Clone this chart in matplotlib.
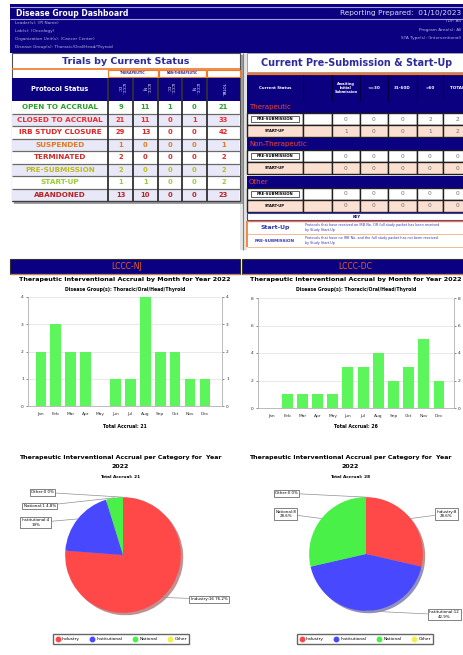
import matplotlib
matplotlib.use('Agg')
import matplotlib.pyplot as plt
from matplotlib.patches import Rectangle
from matplotlib.lines import Line2D
import numpy as np

W, H = 464, 655
NAVY = '#0b0080'
ORANGE = '#f07828'
TITLE_BLUE = '#2c2c9c'
BAR_GREEN = '#5cf55c'

# trials by current status
status_labels = ['OPEN TO ACCRUAL', 'CLOSED TO ACCRUAL', 'IRB STUDY CLOSURE', 'SUSPENDED',
                 'TERMINATED', 'PRE-SUBMISSION', 'START-UP', 'ABANDONED']
status_colors = ['#2a9e2a', '#f02a2a', '#e42222', '#e07a22', '#d02a2a', '#bcbc1e', '#98cc30', '#b82222']
ther_dc = [9, 21, 29, 1, 2, 2, 1, 13]
ther_nj = [11, 11, 13, 0, 0, 0, 1, 10]
nonther_dc = [1, 0, 0, 0, 0, 0, 0, 0]
nonther_nj = [0, 1, 0, 0, 0, 0, 0, 0]

# pre-submission & start-up
presub_headers = ['Awaiting\nInitial\nSubmission', '<=30', '31-60D', '>60', 'TOTAL']
presub_groups = ['Therapeutic', 'Non-Therapeutic', 'Other']
presub_rows = ['PRE-SUBMISSION', 'START-UP']
ther_presub = [0, 0, 0, 2]
ther_startup = [1, 0, 0, 1]
nonther_presub = [0, 0, 0, 0]
nonther_startup = [0, 0, 0, 0]
other_presub = [0, 0, 0, 0]
other_startup = [0, 0, 0, 0]
key_labels = ['Start-Up', 'PRE-SUBMISSION']
key_texts = ['Protocols that have received an IRB No. OR full study packet has been received\nby Study Start-Up',
             'Protocols that have no IRB No. and the full study packet has not been received\nby Study Start-Up']

# monthly accrual
months = ['Jan', 'Feb', 'Mar', 'Apr', 'May', 'Jun', 'Jul', 'Aug', 'Sep', 'Oct', 'Nov', 'Dec']
nj_accrual = [2, 3, 2, 2, 0, 1, 1, 4, 2, 2, 1, 1]
dc_accrual = [0, 1, 1, 1, 1, 3, 3, 4, 2, 3, 5, 2]

# accrual per category
categories = ['Industry', 'Institutional', 'National', 'Other']
cat_colors = ['#ff4848', '#4848ff', '#48f048', '#f0f048']
nj_category = [16, 4, 1, 0]
dc_category = [8, 12, 8, 0]

fig = plt.figure(figsize=(W / 100, H / 100), dpi=100)
bg = fig.add_axes([0, 0, 1, 1])
bg.set_xlim(0, W)
bg.set_ylim(H, 0)
bg.axis('off')


def box(x0, y0, x1, y1, fc, ec='none', lw=0.6, z=1):
    bg.add_patch(Rectangle((x0, y0), x1 - x0, y1 - y0, facecolor=fc,
                           edgecolor=ec, linewidth=lw, zorder=z))


def txt(x, y, s, size=5, color='black', ha='center', weight='normal', **kw):
    bg.text(x, y, s, fontsize=size, color=color, ha=ha, va='center',
            fontweight=weight, zorder=5, **kw)


def hline(y, x0, x1, color, lw, z=3):
    bg.plot([x0, x1], [y, y], color=color, lw=lw, zorder=z, solid_capstyle='butt')


def vline(x, y0, y1, color, lw, z=3):
    bg.plot([x, x], [y0, y1], color=color, lw=lw, zorder=z, solid_capstyle='butt')


def px_axes(x0, y0, x1, y1):
    return fig.add_axes([x0 / W, 1 - y1 / H, (x1 - x0) / W, (y1 - y0) / H])


# header band
box(10, 4, 464, 53, NAVY)
hline(7, 10, 464, '#a0a0e0', 0.8)
hline(19, 10, 464, '#a0a0e0', 0.8)
txt(16, 13, 'Disease Group Dashboard', 5.5, 'white', ha='left', weight='bold')
txt(461, 13, 'Reporting Prepared:  01/10/2023', 5.3, '#dcdcf4', ha='right')
for i, line in enumerate(['Leader(s): (PI Name)', 'Lab(s): (Oncology)',
                          'Organization Unit(s): (Cancer Center)',
                          'Disease Group(s): Thoracic/Oral/Head/Thyroid']):
    txt(15, 23.5 + i * 7.8, line, 3.1, '#b4b4e4', ha='left')
txt(461, 21.5, 'TDF: All', 3.1, '#b4b4e4', ha='right')
txt(461, 29.5, 'Program Area(s): All', 3.1, '#b4b4e4', ha='right')
txt(461, 38, 'STA Type(s): (Interventional)', 3.1, '#b4b4e4', ha='right')

# left panel: trials by current status
box(240, 53, 247, 250, '#e4e4e4')
vline(243.5, 53, 250, '#808080', 0.8)
box(14, 55, 243, 204, '#a0a0a0')
box(12, 53, 240, 201, 'white', ec='#505050', lw=0.8, z=2)
txt(126, 61, 'Trials by Current Status', 6.8, TITLE_BLUE, weight='bold')
hline(68.5, 12, 240, ORANGE, 1.2)
col_edges = [12, 108, 133, 158, 182, 207, 240]
box(108, 69.5, 158, 77, 'white', ec=ORANGE, lw=0.8, z=3)
box(159, 69.5, 206, 77, 'white', ec=ORANGE, lw=0.8, z=3)
box(207, 69.5, 240, 77, 'white', ec=ORANGE, lw=0.8, z=3)
txt(133, 73.3, 'THERAPEUTIC', 2.4, TITLE_BLUE, weight='bold')
txt(182.5, 73.3, 'NON-THERAPEUTIC', 2.2, TITLE_BLUE, weight='bold')
box(12, 77.5, 240, 101, NAVY, z=3)
txt(60, 89, 'Protocol Status', 4.8, 'white', weight='bold')
for j, lab in enumerate(['LCCC-\nDC', 'LCCC-\nNJ', 'LCCC-\nDC', 'LCCC-\nNJ', 'TOTAL']):
    xc = (col_edges[j + 1] + col_edges[j + 2]) / 2
    txt(xc, 89, lab, 2.8, 'white', rotation=-90, linespacing=1.0)
row_h = 12.5
for i, lab in enumerate(status_labels):
    y0 = 101 + i * row_h
    box(12.5, y0, 239.5, y0 + row_h, 'white' if i % 2 == 0 else '#e8e8f8', z=2.5)
    yc = y0 + row_h / 2
    txt(60, yc, lab, 5.2, status_colors[i], weight='bold')
    vals = [ther_dc[i], ther_nj[i], nonther_dc[i], nonther_nj[i]]
    vals.append(sum(vals))
    for j, v in enumerate(vals):
        xc = (col_edges[j + 1] + col_edges[j + 2]) / 2
        txt(xc, yc, str(v), 4.9, status_colors[i], weight='bold')
    if i > 0:
        hline(y0, 12, 240, '#6a6a6a', 0.9)
for x in col_edges[1:-1]:
    vline(x, 77.5, 201, '#303030', 1.3)
hline(201, 12, 240, '#404040', 1.0)

# right panel: pre-submission & start-up
box(247, 53, 470, 72, 'white', ec='#909090', lw=0.6)
txt(357, 62.5, 'Current Pre-Submission & Start-Up', 6.9, TITLE_BLUE, weight='bold')
hline(73.5, 247, 464, ORANGE, 1.6)
pcols = [247, 303, 332, 360, 388, 417, 443, 472]
box(247, 75, 470, 101, NAVY)
txt(275, 88, 'Current Status', 2.8, 'white', weight='bold')
for j, lab in enumerate(presub_headers):
    xc = (pcols[j + 2] + pcols[j + 3]) / 2
    txt(xc, 88, lab, 2.6 if '\n' in lab else 3.0, 'white', weight='bold', linespacing=1.1)
for x in pcols[1:-1]:
    vline(x, 75, 101, '#000040', 0.8)

group_rows = [(ther_presub, ther_startup), (nonther_presub, nonther_startup),
              (other_presub, other_startup)]
group_tops = [101, 138, 175.5]
for g, grp in enumerate(presub_groups):
    gy = group_tops[g]
    box(247, gy, 470, gy + 12, NAVY)
    txt(249, gy + 6.3, grp, 5.0, '#f04830', ha='left')
    for r, vals in enumerate(group_rows[g]):
        y0 = gy + 12 + r * 12.2
        fc = 'white' if r == 0 else '#fbe0d2'
        row_vals = list(vals) + [sum(vals)]
        box(247, y0, 303, y0 + 12.2, fc, ec='#202020', lw=1.0)
        box(303, y0, 332, y0 + 12.2, fc, ec='#202020', lw=1.0)
        if r == 0:
            bg.add_patch(Rectangle((251, y0 + 3), 48, 6.2, facecolor='white',
                                   edgecolor='#202020', linewidth=0.5, zorder=4))
        txt(275, y0 + 6.2, presub_rows[r], 2.7, 'black', weight='bold')
        for j, v in enumerate(row_vals):
            box(pcols[j + 2], y0, pcols[j + 3], y0 + 12.2, fc, ec='#202020', lw=1.0)
            txt((pcols[j + 2] + pcols[j + 3]) / 2, y0 + 6.2, str(v), 4.2, '#707070')

box(247, 213, 470, 220, 'white', ec='#3c3cc0', lw=0.8)
txt(357, 216.7, 'KEY', 2.6, NAVY, weight='bold')
for k, lab in enumerate(key_labels):
    y0 = 221 + k * 13
    txt(275, y0 + 6.5, lab, 4.4 if k == 0 else 3.0, '#3434b4', weight='bold')
    txt(305, y0 + 6.2, key_texts[k], 2.4, '#3434b4', ha='left', linespacing=1.3)
    hline(y0 + 13, 247, 464, '#f0b080', 0.6)
vline(247, 221, 247, ORANGE, 1.2)
hline(221, 247, 464, ORANGE, 1.0)

# site bands
for x0, x1, site in [(10, 240, 'LCCC-NJ'), (242, 470, 'LCCC-DC')]:
    box(x0, 258.5, x1, 273.5, NAVY, ec='#303030', lw=0.8)
    hline(274.3, x0, min(x1, 464), '#c08050', 0.9)
    txt((x0 + min(x1, 464)) / 2 + 2, 266.3, site, 5.5, '#f06028')


def month_chart(rect, values, ymax, ystep, xlim, cx):
    ax = px_axes(*rect)
    ax.bar(range(len(months)), values, width=0.72, color=BAR_GREEN, zorder=2)
    ax.set_xlim(*xlim)
    ax.set_ylim(0, ymax)
    ax.set_yticks(range(0, ymax + 1, ystep))
    ax.set_xticks(range(len(months)))
    ax.set_xticklabels(months)
    ax.tick_params(labelsize=3.2, colors='#303030', length=1.5, width=0.4, pad=1.5,
                   right=True, labelright=True)
    ax.tick_params(axis='x', length=0, pad=4)
    ax.grid(axis='y', color='#e0e0e0', lw=0.5, zorder=0)
    for side in ['left', 'right', 'bottom']:
        ax.spines[side].set_color('#b0b0b0')
        ax.spines[side].set_linewidth(0.6)
    ax.spines['top'].set_visible(False)
    txt(cx, 279, 'Therapeutic Interventional Accrual by Month for Year 2022', 4.6, 'black', weight='bold')
    txt(cx, 289, 'Disease Group(s): Thoracic/Oral/Head/Thyroid', 3.3, 'black', weight='bold')
    txt(cx, 427, 'Total Accrual: %d' % sum(values), 3.3, 'black', weight='bold')


month_chart((28, 297, 222, 406), nj_accrual, 4, 1, (-0.87, 12.15), 125)
month_chart((258, 298, 454, 408), dc_accrual, 8, 2, (-0.92, 11.99), 356)


def pct_text(v, total):
    p = round(100.0 * v / total, 1)
    return ('%d%%' % p) if p == int(p) else ('%.1f%%' % p)


def category_pie(center, radius, values, label_pos, label_sep, cx, legend_x):
    pcx, pcy = center
    ax = px_axes(pcx - radius, pcy - radius, pcx + radius, pcy + radius)
    ax.pie(values, colors=cat_colors, startangle=90, counterclock=False,
           shadow=dict(ox=0.03, oy=-0.03, shade=0.5), wedgeprops=dict(linewidth=0))
    ax.set_xlim(-1.02, 1.02)
    ax.set_ylim(-1.02, 1.02)
    total = sum(values)
    cum = 0
    for i, v in enumerate(values):
        mid = 90 - 360.0 * (cum + v / 2.0) / total
        cum += v
        ex, ey = np.cos(np.radians(mid)), np.sin(np.radians(mid))
        lx, ly = label_pos[i]
        label = '%s:%d%s%s' % (categories[i], v, label_sep[i], pct_text(v, total))
        ax.annotate(label, xy=(ex, ey), xytext=((lx - pcx) / radius, (pcy - ly) / radius),
                    fontsize=2.9, ha='center', va='center', annotation_clip=False,
                    bbox=dict(boxstyle='square,pad=0.35', fc='white', ec='#505050', lw=0.5),
                    arrowprops=dict(arrowstyle='-', color='#909090', lw=0.5, shrinkA=0, shrinkB=0))
    txt(cx, 457, 'Therapeutic Interventional Accrual per Category for  Year', 4.5, 'black', weight='bold')
    txt(cx, 467, '2022', 4.5, 'black', weight='bold')
    txt(cx, 477, 'Total Accrual: %d' % total, 3.1, 'black', weight='bold')
    handles = [Line2D([], [], marker='o', ls='', markersize=3.2, markerfacecolor=c,
                      markeredgecolor=c) for c in cat_colors]
    ax.legend(handles, categories, loc='center', bbox_to_anchor=(legend_x, 639),
              bbox_transform=bg.transData, ncol=4, fontsize=3.2, frameon=True,
              fancybox=False, edgecolor='#404040', borderpad=0.6, handletextpad=0.4,
              columnspacing=2.4, handlelength=1.0)


category_pie((123, 555), 59, nj_category,
             [(211, 600), (34, 522), (38, 505), (41, 491)],
             [' ', '\n', ' ', ' '], 120, 121)
category_pie((366, 554), 58, dc_category,
             [(448, 513), (446, 616), (284, 513), (285, 492)],
             ['\n', '\n', '\n', ' '], 350, 365)

fig.savefig('out.png', dpi=100)
